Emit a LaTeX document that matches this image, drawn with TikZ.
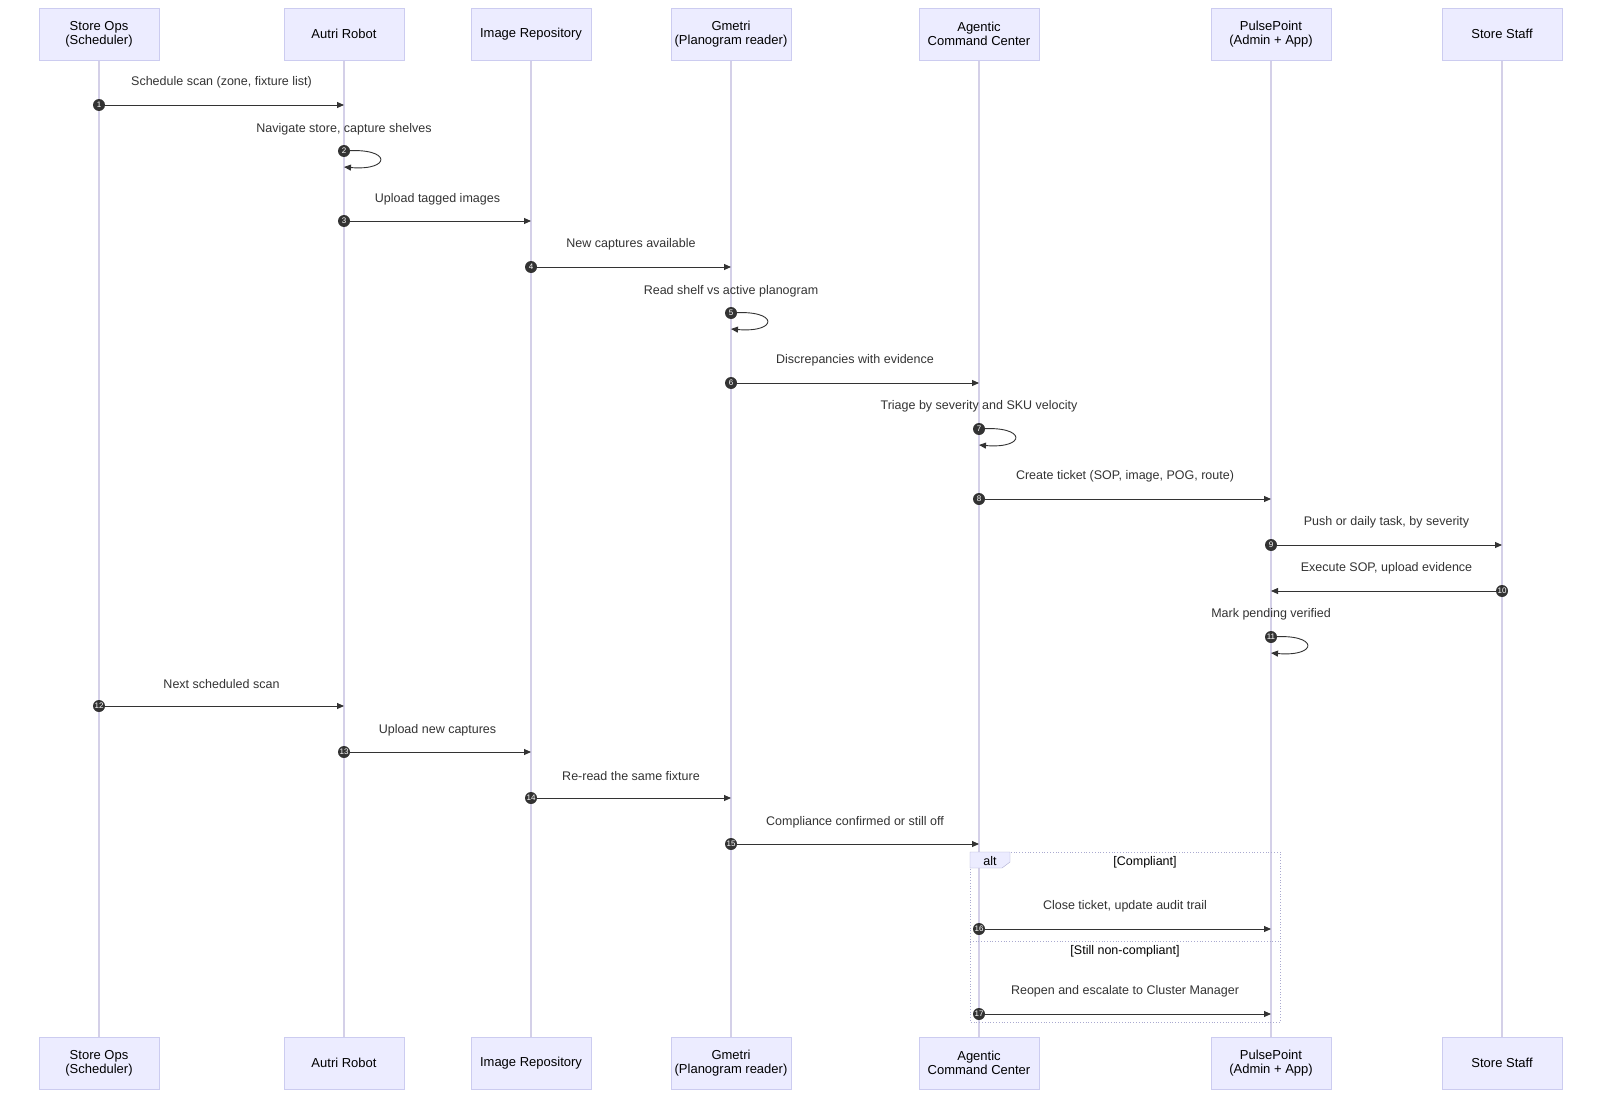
\documentclass[tikz,border=0pt]{standalone}
\usepackage{fontspec}
\setmainfont{Liberation Sans}
\usetikzlibrary{arrows.meta}
\definecolor{actfill}{HTML}{ECECFF}
\definecolor{actline}{HTML}{CCCCF0}
\definecolor{life}{HTML}{D4D0E8}
\definecolor{ink}{HTML}{333333}
\definecolor{altline}{HTML}{AAAAD0}
\begin{document}
\begin{tikzpicture}[x=1pt,y=-1pt,
  actor/.style={draw=actline,fill=actfill,minimum width=120pt,minimum height=52pt,align=center,font=\fontsize{13}{14}\selectfont,text=black,inner sep=1pt},
  msg/.style={draw=ink,line width=0.9pt,-{Triangle[length=7pt,width=6pt]}},
  lbl/.style={font=\fontsize{12.5}{14}\selectfont,text=ink},
  num/.style={circle,fill=ink,text=white,inner sep=0pt,minimum size=12pt,font=\fontsize{8}{9}\selectfont}]
\useasboundingbox (0,0) rectangle (1600,1097);
\foreach \n/\x/\t in {so/99/{Store Ops\\(Scheduler)},ar/344/{Autri Robot},ir/531/{Image Repository},gm/731/{Gmetri\\(Planogram reader)},ag/979/{Agentic\\Command Center},pp/1271/{PulsePoint\\(Admin + App)},ss/1502/{Store Staff}}{
  \draw[life,line width=1.2pt] (\x,60) -- (\x,1037);
  \node[actor] (\n t) at (\x,34) {\t};
  \node[actor] (\n b) at (\x,1063) {\t};
}
% alt box
\draw[altline,dotted,line width=0.8pt] (970,852) rectangle (1280,1022);
\draw[altline,dotted,line width=0.8pt] (970,941) -- (1280,941);
\draw[altline,fill=actfill] (970,852) -- (1010,852) -- (1010,862) -- (1002,868) -- (970,868) -- cycle;
\node[font=\fontsize{12.5}{14}\selectfont] (altl) at (990,861) {alt};
\node[font=\fontsize{12.5}{14}\selectfont] (c1) at (1145,862) {[Compliant]};
\node[font=\fontsize{12.5}{14}\selectfont] (c2) at (1125,951) {[Still non-compliant]};
% messages
\foreach \i/\a/\b/\ly/\y/\t in {
 1/99/344/82/105/{Schedule scan (zone, fixture list)},
 3/344/531/199/221/{Upload tagged images},
 4/531/731/244/267/{New captures available},
 6/731/979/360/383/{Discrepancies with evidence},
 8/979/1271/476/499/{Create ticket (SOP, image, POG, route)},
 9/1271/1502/522/545/{Push or daily task, by severity},
 10/1502/1271/568/591/{Execute SOP, upload evidence},
 12/99/344/684/706/{Next scheduled scan},
 13/344/531/730/752/{Upload new captures},
 14/531/731/776/798/{Re-read the same fixture},
 15/731/979/822/844/{Compliance confirmed or still off},
 16/979/1271/906/929/{Close ticket, update audit trail},
 17/979/1271/991/1014/{Reopen and escalate to Cluster Manager}}{
  \coordinate (s\i) at (\a,\y); \coordinate (e\i) at (\b,\y);
  \draw[msg] (s\i) -- (e\i);
  \node[lbl] (l\i) at ({(\a+\b)/2},\ly) {\t};
  \node[num] (n\i) at (s\i) {\i};
}
\foreach \i/\x/\ly/\y/\t in {
 2/344/129/151/{Navigate store, capture shelves},
 5/731/291/313/{Read shelf vs active planogram},
 7/979/406/429/{Triage by severity and SKU velocity},
 11/1271/614/637/{Mark pending verified}}{
  \coordinate (s\i) at (\x,\y); \coordinate (e\i) at (\x,\y+16);
  \draw[msg] (s\i) .. controls (\x+48,\y-4) and (\x+48,\y+20) .. (e\i);
  \node[lbl] (l\i) at (\x,\ly) {\t};
  \node[num] (n\i) at (s\i) {\i};
}
\end{tikzpicture}
\end{document}
